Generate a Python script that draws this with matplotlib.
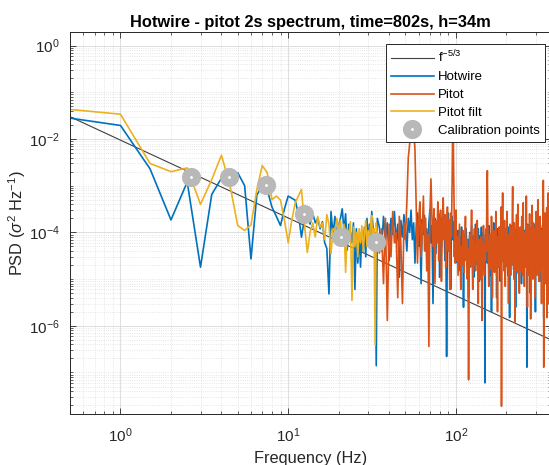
import numpy as np
import matplotlib
matplotlib.use("Agg")
import matplotlib.pyplot as plt
from matplotlib.ticker import LogLocator, NullFormatter

plt.rcParams['font.family'] = ['Liberation Sans', 'DejaVu Sans']
plt.rcParams['mathtext.fontset'] = 'custom'
plt.rcParams['mathtext.rm'] = 'Liberation Sans'
plt.rcParams['mathtext.it'] = 'Liberation Sans:italic'
plt.rcParams['mathtext.bf'] = 'Liberation Sans:bold'

# frequency grids (Hz)
f_low = np.arange(0.5, 34.01, 0.5)      # hotwire + pitot filt
f_mid = np.arange(35, 100.01, 1.0)
f_hi = np.arange(101, 369.01, 1.0)

# hotwire PSD, 0.5 .. 34 Hz
hw_low = [2.8e-2, 1.95e-2, 2.3e-3, 1.85e-4, 1.2e-3, 1.8e-5, 6.5e-4, 1.45e-3, 9.5e-4, 1.9e-3,
          1.0e-3, 2.7e-5, 6.3e-4, 1.0e-3, 8.1e-4, 3.5e-4, 2.2e-4, 1.4e-4, 3.2e-4, 6.0e-4,
          5.4e-4, 4.9e-4, 2.5e-4, 7.9e-5, 2.0e-4, 2.3e-4, 1.5e-4, 2.6e-4, 1.6e-4, 2.0e-4,
          1.2e-4, 1.7e-4, 6e-5, 4.5e-5, 4.8e-6, 2.8e-4, 9e-5, 2.2e-4, 6e-5, 1.4e-4,
          2.0e-4, 3.2e-4, 1.1e-4, 2.5e-4, 4.2e-5, 1.5e-4, 1.0e-4, 6e-5, 1.6e-4, 6e-6,
          1.2e-4, 2.2e-5, 9e-5, 1.8e-5, 1.1e-4, 4e-5, 1.3e-4, 3e-5, 2.0e-4, 5e-5,
          1.5e-4, 8e-5, 2.8e-4, 1.4e-4, 7e-5, 1.0e-4, 1.4e-7, 2.0e-4]
# hotwire PSD, 35 .. 100 Hz
hw_mid = [1.3e-4, 4e-5, 2.2e-4, 7e-5, 1.6e-4, 2.5e-5, 2.0e-4, 9e-5, 2.8e-4, 6e-5,
          1.5e-4, 1.1e-5, 1.8e-4, 8e-5, 2.4e-4, 1.2e-4, 4e-5, 2.0e-4, 1.0e-4, 3.0e-4,
          7e-5, 1.6e-4, 2.2e-5, 1.3e-4, 2.6e-4, 5e-5, 1.4e-4, 8e-6, 1.9e-4, 9e-5,
          2.3e-4, 4e-5, 1.2e-4, 1.8e-5, 1.6e-4, 3.1e-4, 6e-5, 1.4e-4, 3e-6, 1.0e-4,
          2.0e-4, 3.5e-5, 1.7e-4, 7e-5, 2.5e-4, 1.1e-5, 1.2e-4, 5e-5, 2.1e-4, 9e-5,
          1.5e-4, 2.5e-5, 1.3e-4, 2.2e-7, 1.1e-4, 2.6e-4, 4.5e-5, 1.6e-4, 6e-6, 1.2e-4,
          2.2e-4, 7e-5, 1.7e-4, 3e-5, 1.4e-4, 9e-5]
# hotwire PSD, 101 .. 369 Hz
hw_hi = [6e-5, 2.2e-5, 1.1e-4, 4e-5, 8e-5, 1.5e-5, 5e-5, 1.3e-4, 3e-5, 7e-5,
         2.5e-6, 4.5e-5, 9e-5, 3.5e-5, 1.2e-4, 6e-5, 1.8e-5, 7e-5, 4e-6, 5.5e-5,
         1.0e-4, 3e-5, 6.5e-5, 1.4e-4, 2.5e-5, 8e-5, 4e-5, 1.1e-5, 9e-5, 5e-5,
         1.5e-4, 3.5e-5, 7e-5, 2e-5, 6e-5, 1.2e-4, 4.5e-5, 9e-6, 8.5e-5, 3e-5,
         6e-5, 1.3e-4, 2.8e-5, 5e-5, 1.0e-4, 1.6e-5, 7e-5, 4e-5, 6e-8, 9e-5,
         3.5e-5, 1.2e-4, 5.5e-5, 2.2e-5, 8e-5, 4.5e-5, 1.4e-4, 3e-5, 6e-5, 1.2e-5,
         9e-5, 4e-5, 2e-6, 7e-5, 1.1e-4, 3e-5, 5e-5, 1.6e-4, 2.5e-5, 6.5e-5,
         4e-5, 1.0e-4, 1.8e-5, 7.5e-5, 4e-6, 5e-5, 1.2e-4, 3.5e-5, 8e-5, 2e-5,
         6e-5, 1.3e-4, 4.5e-5, 9e-6, 7e-5, 3e-5, 1.1e-4, 5.5e-5, 2.4e-5, 9e-5,
         4e-5, 1.5e-4, 3e-5, 6e-5, 1.5e-5, 8e-5, 5e-5, 1.2e-4, 2.8e-5, 7e-5,
         1.0e-4, 3.5e-5, 6e-5, 1.2e-5, 8.5e-5, 4.5e-5, 1.3e-4, 2.5e-5, 1.5e-6, 6e-5,
         3e-5, 9e-5, 5e-5, 1.4e-4, 2e-5, 7e-5, 4e-5, 1.1e-4, 3.5e-5, 6.5e-5,
         1.6e-5, 8e-5, 5e-5, 1.2e-4, 3e-5, 7e-5, 2.5e-6, 6e-5, 1.0e-4, 4e-5,
         2.2e-5, 8e-5, 1.3e-4, 4.5e-5, 6e-5, 1.4e-5, 9e-5, 3e-5, 5.5e-5, 1.1e-4,
         3.5e-5, 7e-5, 2e-5, 1.2e-4, 5e-5, 8e-6, 7.5e-5, 4e-5, 1.0e-4, 2.8e-5,
         6e-5, 1.4e-4, 3.5e-5, 8e-5, 1.8e-5, 5e-5, 1.1e-4, 4e-5, 6.5e-5, 2.2e-5,
         9e-5, 4.5e-5, 1.2e-4, 3e-5, 1.3e-7, 7e-5, 5e-5, 1.5e-4, 2.5e-5, 6e-5,
         4e-5, 1.0e-4, 1.5e-5, 7e-5, 3.5e-5, 1.2e-4, 5.5e-5, 5e-6, 8e-5, 4e-5,
         1.3e-4, 2.8e-5, 6e-5, 9e-5, 2e-5, 7e-5, 4.5e-5, 1.1e-4, 3e-5, 5e-5,
         1.5e-4, 3.5e-5, 7.5e-5, 1.2e-5, 6e-5, 1.0e-4, 4e-5, 2e-6, 8e-5, 5.5e-5,
         2.5e-5, 1.2e-4, 6e-5, 3.5e-5, 9e-5, 1.6e-5, 7e-5, 1.3e-4, 4e-5, 6e-5,
         2e-5, 8.5e-5, 4.5e-5, 1.1e-4, 3e-5, 7e-5, 9e-6, 6e-5, 1.4e-4, 3.5e-5,
         8e-5, 5e-5, 2.2e-5, 1.2e-4, 6.5e-5, 4e-5, 1.0e-4, 1.8e-5, 7e-5, 4.5e-5,
         1.3e-4, 3e-5, 6e-5, 1.5e-6, 9e-5, 5e-5, 2.5e-5, 1.1e-4, 4e-5, 7.5e-5,
         3.5e-5, 1.4e-4, 6e-5, 2e-5, 8e-5, 4.5e-5, 1.2e-4, 3e-5, 6.5e-5, 1.2e-5,
         9e-5, 5e-5, 1.5e-4, 3.5e-5, 7e-5, 2.5e-5, 1.0e-4, 4e-5, 6e-6, 8e-5,
         5.5e-5, 1.2e-4, 3e-5, 7e-5, 4e-5, 1.1e-4, 2.2e-5, 6e-5, 9e-5]

# filtered pitot PSD, 0.5 .. 34 Hz (raw pitot is the same there)
pf_low = [4.3e-2, 3.4e-2, 3.0e-3, 2.0e-3, 2.4e-3, 4.0e-4, 1.35e-3, 4.5e-3, 1.0e-3, 1.4e-4,
          1.1e-4, 1.45e-4, 8.1e-4, 2.7e-3, 1.9e-3, 5e-4, 6e-4, 4.9e-4, 1.8e-4, 6e-5,
          1.8e-4, 4.2e-4, 6e-4, 8.3e-4, 1.5e-4, 3.7e-5, 1.0e-4, 1.6e-4, 8e-5, 2.2e-4,
          1.3e-4, 1.6e-4, 7e-5, 2.4e-4, 1.5e-4, 3.5e-5, 1.2e-4, 1.1e-4, 2.0e-4, 1.1e-4,
          1.8e-4, 6e-5, 1.5e-4, 1.4e-5, 1.2e-4, 8e-5, 1.7e-4, 3.5e-6, 1.3e-4, 5e-5,
          1.0e-4, 3e-5, 1.2e-4, 6e-5, 1.4e-4, 4e-5, 9e-5, 1.8e-4, 5e-5, 1.1e-4,
          6e-5, 1.5e-4, 2.3e-4, 4.2e-5, 1.2e-4, 3.9e-7, 1.6e-4, 9e-5]
# raw pitot PSD, 35 .. 100 Hz
pt_mid = [3.6e-5, 1.2e-4, 8e-6, 2.0e-4, 1.3e-6, 1.5e-4, 3e-5, 2.8e-4, 6e-5, 1.0e-4,
          4e-6, 2.2e-4, 5e-5, 3e-6, 1.6e-4, 7e-5, 4.3e-4, 4.0e-3, 8e-3, 1.5e-2,
          2.5e-2, 2.0e-2, 5.7e-3, 3.5e-4, 2.2e-5, 1.8e-4, 4.5e-4, 3e-5, 1.1e-4, 6e-4,
          4e-5, 2.0e-4, 1.5e-5, 9e-5, 3.6e-7, 2.5e-4, 1.4e-3, 2e-4, 5e-5, 3.2e-4,
          8e-6, 1.8e-4, 6e-5, 4.5e-4, 2.5e-5, 1.3e-4, 3e-4, 9e-6, 1.5e-4, 5.5e-4,
          7e-5, 2.4e-4, 1.8e-5, 1.0e-4, 3.5e-4, 4e-5, 1.9e-4, 6e-6, 2.6e-4, 8e-5,
          1.5e-3, 6e-2, 1.8e-3, 1e-4, 2.2e-5, 3e-4]
# raw pitot PSD, 101 .. 369 Hz
pt_hi = [2.5e-5, 8e-5, 1.2e-5, 4e-5, 1.5e-4, 3e-5, 6e-6, 5e-5, 2e-5, 1.1e-4,
         3.5e-5, 1.4e-5, 6e-5, 2.2e-4, 2.5e-5, 7e-5, 1.0e-5, 4.5e-5, 7e-8, 3e-5,
         9e-5, 1.8e-5, 5e-5, 3e-4, 2.8e-5, 6e-6, 6.5e-5, 2e-5, 1.2e-4, 3.5e-5,
         1.5e-5, 5.5e-5, 2.5e-5, 1.8e-4, 4e-5, 3e-6, 7e-5, 2.2e-5, 4.5e-5, 1.0e-5,
         8e-5, 3e-5, 1.3e-6, 6e-5, 2e-5, 1.4e-4, 3.5e-5, 1.2e-5, 5e-5, 2.5e-5,
         1.0e-4, 4e-5, 6e-4, 2.1e-3, 1.5e-4, 3e-5, 7e-6, 6e-5, 2.2e-5, 9e-5,
         3e-5, 1.6e-5, 2.2e-4, 4.5e-5, 4e-6, 6.5e-5, 2.5e-5, 1.1e-4, 3.5e-5, 1.4e-5,
         7e-5, 2.2e-5, 2.8e-4, 4e-5, 1.2e-5, 5.5e-5, 2e-6, 8e-5, 3e-5, 1.8e-5,
         1.3e-4, 4.5e-5, 2.5e-5, 6e-5, 1.0e-5, 3.5e-4, 1.9e-8, 4e-5, 2e-4, 7e-4,
         8e-5, 2.5e-5, 5e-5, 1.5e-5, 1.8e-4, 3e-5, 7e-6, 6e-5, 2.2e-5, 1.2e-4,
         4e-5, 2.8e-4, 1.8e-5, 6.5e-5, 3e-5, 3e-6, 9e-5, 2.5e-5, 5e-5, 1.5e-4,
         3.5e-5, 1.2e-5, 7e-5, 2.5e-5, 1.2e-4, 4e-5, 3e-4, 9.5e-4, 6e-5, 2e-5,
         5e-5, 1.0e-5, 1.6e-4, 3.5e-5, 1.2e-6, 7e-5, 2.5e-5, 4.5e-5, 1.5e-5, 2.4e-4,
         3e-5, 6e-5, 2e-5, 4e-4, 5e-5, 1.3e-5, 8e-5, 3e-5, 5e-6, 6e-5,
         2.2e-5, 1.3e-4, 4e-5, 1.5e-5, 7e-5, 3e-5, 2.2e-4, 2.5e-5, 5.5e-5, 1.2e-5,
         1.5e-4, 4.3e-4, 3.5e-5, 2e-5, 6e-5, 7e-6, 1.0e-4, 3e-5, 4.5e-5, 1.8e-5,
         8e-5, 2.5e-5, 6e-4, 4e-5, 1.5e-5, 6.5e-5, 2.5e-6, 5e-5, 3e-5, 1.4e-4,
         2e-5, 7e-5, 3.5e-5, 1.2e-5, 2.5e-4, 4e-5, 2.2e-5, 9e-5, 1.4e-6, 5e-5,
         3e-5, 1.1e-4, 1.8e-5, 5.5e-5, 3.8e-4, 2.5e-5, 7e-5, 1.0e-5, 4.5e-5, 1.6e-4,
         3e-5, 6e-5, 1.4e-5, 8e-5, 2.5e-5, 4e-6, 1.2e-4, 3.5e-5, 5e-5, 2e-5,
         2.8e-4, 4e-5, 1.2e-5, 7e-5, 2.5e-5, 5e-5, 1.5e-4, 3e-5, 5e-4, 6e-5,
         2e-5, 9e-6, 6.5e-5, 3e-5, 1.3e-4, 4e-5, 1.8e-5, 2.2e-4, 3.5e-5, 6e-5,
         1.5e-5, 8e-5, 3e-5, 3e-6, 5.5e-5, 2.5e-5, 1.1e-4, 4e-5, 1.8e-5, 3e-4,
         6e-5, 1.3e-3, 2e-4, 1.3e-7, 4e-5, 1.2e-4, 2.5e-5, 6e-5, 1.5e-5, 2.6e-4,
         3.5e-5, 7e-5, 8e-6, 5e-5, 2.2e-5, 1.2e-4, 3e-5, 3.4e-4, 4.5e-5, 1.5e-6,
         6e-5, 2.5e-5, 1.8e-4, 4e-5, 7e-4, 1.2e-4, 2e-5, 5.5e-5, 3e-6, 3e-5,
         1.3e-4, 4e-5, 2.2e-5, 2.2e-4, 6e-5, 1.5e-5, 8e-5, 3.5e-5, 1.5e-4]

# f^-5/3 reference line end points
f_ref = [0.5, 369.0]
psd_ref = [3.0e-2, 5.0e-7]

# calibration points
f_cal = [2.64, 4.41, 7.39, 12.4, 20.6, 33.6]
psd_cal = [1.52e-3, 1.52e-3, 1.06e-3, 2.44e-4, 7.85e-5, 6.2e-5]

f_all = np.concatenate([f_low, f_mid, f_hi])
hotwire = np.concatenate([hw_low, hw_mid, hw_hi])
pitot = np.concatenate([pf_low, pt_mid, pt_hi])
n0 = len(f_low) - 1   # below this the raw pitot sits under the filtered curve

c_blue = (0.0, 0.447, 0.741)
c_red = (0.85, 0.325, 0.098)
c_yel = (0.929, 0.694, 0.125)

fig = plt.figure(figsize=(5.49, 4.65), dpi=100)
ax = fig.add_axes([70/549, 1-414/465, 481/549, 381.5/465])

ax.loglog(f_ref, psd_ref, color='0.25', lw=0.8, label=r'f$^{\mathregular{-5/3}}$')
ax.loglog(f_all, hotwire, color=c_blue, lw=1.2, label='Hotwire')
ax.loglog(f_all[n0:], pitot[n0:], color=c_red, lw=1.2, label='Pitot')
ax.loglog(f_low, pf_low, color=c_yel, lw=1.2, label='Pitot filt')
ax.loglog(f_cal, psd_cal, ls='none', marker='o', ms=8, mew=5.8, mec='0.72', mfc='white',
          label='Calibration points')

ax.set_xlim(0.5, 369)
ax.set_ylim(1.29e-8, 1.91)
ax.set_yticks([1e-6, 1e-4, 1e-2, 1])
ax.yaxis.set_minor_locator(LogLocator(base=10, subs=np.arange(1, 10), numticks=100))
ax.yaxis.set_minor_formatter(NullFormatter())
ax.xaxis.set_minor_locator(LogLocator(base=10, subs=np.arange(2, 10), numticks=100))
ax.xaxis.set_minor_formatter(NullFormatter())

ax.grid(which='major', color='0.87', lw=0.7)
ax.grid(which='minor', color='0.87', lw=0.6, ls=':')
ax.set_axisbelow(True)
ax.tick_params(which='both', direction='in', top=True, right=True, labelsize=11, colors='0.15')
ax.tick_params(axis='x', which='major', pad=9)
ax.tick_params(axis='y', which='major', pad=7.5)
ax.tick_params(which='major', length=4, width=0.6)
ax.tick_params(which='minor', length=2, width=0.5)
for s in ax.spines.values():
    s.set_color('0.15')
    s.set_linewidth(0.7)

ax.set_title('Hotwire - pitot 2s spectrum, time=802s, h=34m', fontsize=11.8, fontweight='bold', pad=4)
ax.set_xlabel('Frequency (Hz)', fontsize=11.8, color='0.15')
ax.set_ylabel(r'PSD ($\sigma^2$ Hz$^{-1}$)', fontsize=11.8, color='0.15')
ax.xaxis.set_label_coords(0.5, -0.098)
ax.yaxis.set_label_coords(-0.088, 0.5)

leg = ax.legend(loc='upper right', bbox_to_anchor=(545/549, 1-44/465), bbox_transform=fig.transFigure,
                fancybox=False, edgecolor='0.15', framealpha=1, fontsize=9.5, handlelength=3.3,
                handletextpad=0.3, labelspacing=0.42, borderaxespad=0, borderpad=0.38)
leg.get_frame().set_linewidth(0.7)

fig.savefig('out.png', dpi=100)
